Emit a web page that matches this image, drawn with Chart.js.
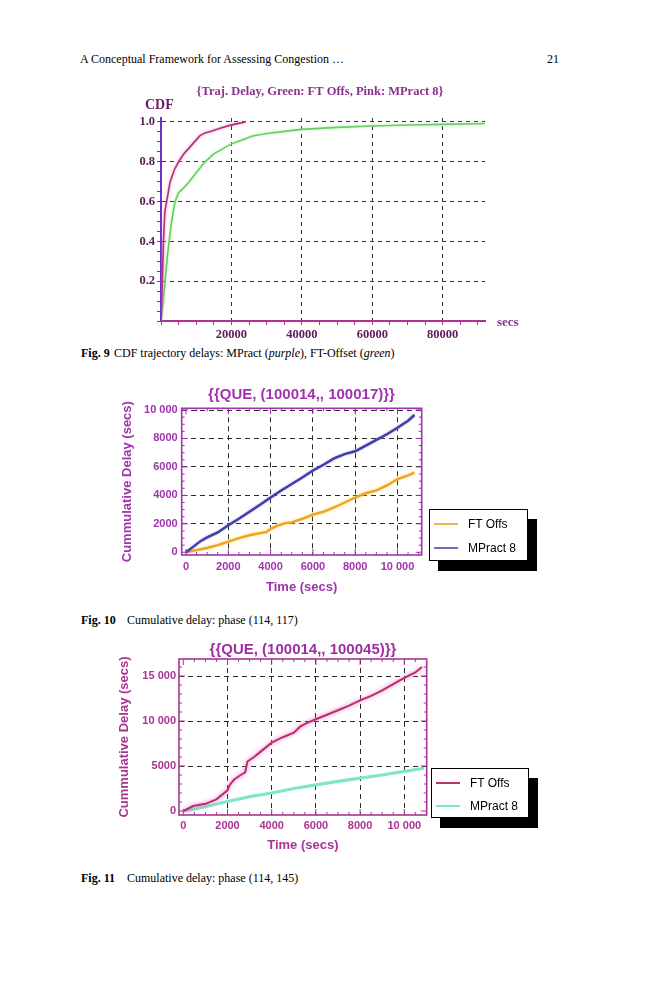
<!DOCTYPE html>
<html><head><meta charset="utf-8">
<script src="https://cdn.jsdelivr.net/npm/chart.js@4.4.1/dist/chart.umd.min.js"></script>
<style>
body{margin:0;background:#fff;width:659px;height:1000px;position:relative;overflow:hidden;font-family:'Liberation Serif','Times New Roman',serif;color:#000;}
.t{position:absolute;white-space:nowrap;line-height:1;}
canvas{position:absolute;}
.lg{position:absolute;box-sizing:border-box;background:#fff;border:1px solid #000;box-shadow:9px 10px 0 #000;font-family:'Liberation Sans',Arial,sans-serif;font-size:12px;}
.lg .sw{position:absolute;left:4px;width:24px;height:0;border-top:2px solid;}
.lg .lb{position:absolute;left:38px;line-height:14px;}
.cap{position:absolute;left:81px;font-size:12px;white-space:nowrap;line-height:12px;}
.cap b{display:inline-block;}
</style></head>
<body>
<div class="t" style="left:80px;top:53px;font-size:12px;">A Conceptual Framework for Assessing Congestion …</div>
<div class="t" style="left:547px;top:53px;font-size:12px;">21</div>

<canvas id="c1" width="440" height="260" style="left:100px;top:80px;"></canvas>
<div class="t" style="left:145px;top:98px;font-size:14px;font-weight:bold;color:#6a1a66;">CDF</div>
<div class="t" style="left:497px;top:315px;font-size:13px;font-weight:bold;color:#8a3a8a;">secs</div>
<div class="cap" style="top:347px;"><b style="width:33px;">Fig. 9</b>CDF trajectory delays: MPract (<i>purple</i>), FT-Offset (<i>green</i>)</div>

<canvas id="c2" width="383" height="220" style="left:110px;top:380px;"></canvas>
<div class="lg" style="left:429px;top:509px;width:99px;height:52px;">
  <div class="sw" style="top:13px;border-color:#f2b44a;"></div><div class="lb" style="top:7px;">FT Offs</div>
  <div class="sw" style="top:37px;border-color:#6f6fb8;"></div><div class="lb" style="top:31px;">MPract 8</div>
</div>
<div class="cap" style="top:614px;"><b style="width:46px;">Fig. 10</b>Cumulative delay: phase (114, 117)</div>

<canvas id="c3" width="386" height="230" style="left:110px;top:630px;"></canvas>
<div class="lg" style="left:431px;top:768px;width:98px;height:50px;">
  <div class="sw" style="top:13px;border-color:#c0306c;"></div><div class="lb" style="top:7px;">FT Offs</div>
  <div class="sw" style="top:36px;border-color:#7fe6c8;"></div><div class="lb" style="top:30px;">MPract 8</div>
</div>
<div class="cap" style="top:872px;"><b style="width:46px;">Fig. 11</b>Cumulative delay: phase (114, 145)</div>

<script>
// ---------- Fig. 9 data (CDF of trajectory delays) ----------
const cdfTitle = '{Traj. Delay, Green: FT Offs, Pink: MPract 8}';
const cdfMpractX = [0, 300, 700, 1100, 1600, 2600, 3800, 5000, 6500, 8000, 9500, 11000, 12500, 14500, 17000, 19500, 22000, 24000];
const cdfMpractY = [0, 0.15, 0.40, 0.55, 0.60, 0.70, 0.76, 0.80, 0.84, 0.87, 0.90, 0.93, 0.945, 0.955, 0.97, 0.983, 0.993, 1.0];
const cdfFtX = [0, 500, 1000, 1900, 3000, 4000, 5000, 6500, 8000, 10000, 12500, 15000, 17500, 20000, 23000, 26000, 30000, 35000, 40000, 45000, 50000, 60000, 70000, 80000, 92000];
const cdfFtY = [0, 0.08, 0.17, 0.34, 0.50, 0.60, 0.645, 0.67, 0.70, 0.745, 0.80, 0.84, 0.865, 0.89, 0.91, 0.93, 0.942, 0.953, 0.963, 0.968, 0.973, 0.98, 0.985, 0.988, 0.992];
const cdfXTicks = [0, 5000, 10000, 15000, 20000, 25000, 30000, 35000, 40000, 45000, 50000, 55000, 60000, 65000, 70000, 75000, 80000, 85000, 90000];
const cdfXLabeled = [20000, 40000, 60000, 80000];
const cdfYTicks = [0, 0.05, 0.1, 0.15, 0.2, 0.25, 0.3, 0.35, 0.4, 0.45, 0.5, 0.55, 0.6, 0.65, 0.7, 0.75, 0.8, 0.85, 0.9, 0.95, 1.0];
const cdfYLabeled = [0.2, 0.4, 0.6, 0.8, 1.0];

// ---------- Fig. 10 data ----------
const q1Title = '{{QUE, (100014,, 100017)}}';
const q1FtX = [0, 500, 1000, 1500, 2000, 2500, 3000, 3500, 3800, 4000, 4300, 4700, 5000, 5500, 6000, 6500, 7000, 7500, 8000, 8500, 9000, 9500, 10000, 10500, 10800];
const q1FtY = [0, 150, 300, 500, 750, 1000, 1200, 1350, 1420, 1650, 1850, 2050, 2100, 2350, 2650, 2850, 3150, 3500, 3850, 4150, 4350, 4700, 5150, 5400, 5600];
const q1MpX = [0, 350, 700, 1000, 1500, 2000, 2500, 3000, 3500, 4000, 4500, 5000, 5500, 6000, 6500, 7000, 7500, 8000, 8500, 9000, 9500, 10000, 10500, 10800];
const q1MpY = [0, 400, 800, 1050, 1400, 1900, 2350, 2850, 3350, 3850, 4350, 4800, 5250, 5750, 6150, 6600, 6900, 7100, 7500, 7900, 8300, 8750, 9250, 9650];
const q1XTicks = [0, 2000, 4000, 6000, 8000, 10000];
const q1YTicks = [0, 2000, 4000, 6000, 8000, 10000];

// ---------- Fig. 11 data ----------
const q2Title = '{{QUE, (100014,, 100045)}}';
const q2FtX = [0, 450, 1000, 1500, 2000, 2100, 2300, 2600, 2800, 2900, 3200, 3500, 4000, 4500, 5000, 5300, 5600, 6000, 6500, 7000, 7500, 8000, 8500, 9000, 9500, 10000, 10500, 10800];
const q2FtY = [0, 550, 800, 1300, 2300, 2900, 3500, 4000, 4300, 5500, 6000, 6600, 7600, 8200, 8700, 9400, 9800, 10200, 10700, 11200, 11700, 12300, 12800, 13400, 14100, 14800, 15400, 16000];
const q2MpX = [0, 500, 1000, 2000, 3000, 4000, 5000, 6000, 7000, 8000, 9000, 10000, 10900];
const q2MpY = [0, 200, 500, 1050, 1600, 2000, 2500, 2900, 3300, 3650, 4000, 4400, 4750];
const q2XTicks = [0, 2000, 4000, 6000, 8000, 10000];
const q2YTicks = [0, 5000, 10000, 15000];

const pts = (xs, ys) => xs.map((x, i) => ({x: x, y: ys[i]}));
const fmt = v => v >= 10000 ? String(v).replace(/\B(?=(\d{3})+(?!\d))/g, ' ') : String(v);
const SANS = "'Liberation Sans', Arial, sans-serif";
const SERIF = "'Liberation Serif', 'Times New Roman', serif";
const steps = (a, b, s) => { const r = []; for (let v = a; v <= b + 1e-9; v += s) r.push(Math.round(v * 1000) / 1000); return r; };
// invisible right-hand spacer axis so that the title stays centred on the whole figure
const spacer = w => ({ position: 'right', display: true, afterFit: s => { s.width = w; }, ticks: { display: false }, grid: { display: false, drawTicks: false }, border: { display: false } });

const glowPlugin = {
  id: 'glow',
  beforeDatasetDraw(chart, args) {
    const ds = chart.data.datasets[args.index];
    if (ds.glowColor) { chart.ctx.save(); chart.ctx.shadowColor = ds.glowColor; chart.ctx.shadowBlur = ds.glowBlur || 4; }
  },
  afterDatasetDraw(chart, args) {
    const ds = chart.data.datasets[args.index];
    if (ds.glowColor) chart.ctx.restore();
  }
};

const framePlugin = {
  id: 'frame',
  afterDatasetsDraw(chart, args, o) {
    if (!o || !o.color) return;
    const ctx = chart.ctx, a = chart.chartArea, xs = chart.scales.x, ys = chart.scales.y;
    ctx.save();
    ctx.strokeStyle = o.color;
    ctx.lineWidth = 1;
    const seg = (x1, y1, x2, y2) => { ctx.beginPath(); ctx.moveTo(x1, y1); ctx.lineTo(x2, y2); ctx.stroke(); };
    o.xMinor.forEach(v => {
      const p = xs.getPixelForValue(v);
      if (p < a.left || p > a.right) return;
      const L = o.xMajor.includes(v) ? 6 : 3;
      seg(p, a.bottom, p, a.bottom - L); seg(p, a.top, p, a.top + L);
    });
    o.yMinor.forEach(v => {
      const p = ys.getPixelForValue(v);
      if (p < a.top || p > a.bottom) return;
      const L = o.yMajor.includes(v) ? 6 : 3;
      seg(a.left, p, a.left + L, p); seg(a.right, p, a.right - L, p);
    });
    ctx.lineWidth = 1.6;
    ctx.strokeRect(a.left, a.top, a.right - a.left, a.bottom - a.top);
    ctx.restore();
  }
};
Chart.register(glowPlugin);

// ---------- Fig. 9 ----------
new Chart(document.getElementById('c1'), {
  type: 'line',
  data: { datasets: [
    { label: 'MPract 8', data: pts(cdfMpractX, cdfMpractY), borderColor: '#b3336f', borderWidth: 1.6, pointRadius: 0, tension: 0, glowColor: 'rgba(240,130,225,0.95)', glowBlur: 3 },
    { label: 'FT Offs', data: pts(cdfFtX, cdfFtY), borderColor: '#6cc96c', borderWidth: 1.6, pointRadius: 0, tension: 0, glowColor: 'rgba(170,245,150,0.9)', glowBlur: 3 }
  ]},
  options: {
    responsive: false, animation: false, events: [],
    layout: { padding: 0 },
    plugins: {
      legend: { display: false }, tooltip: { enabled: false },
      title: { display: true, text: cdfTitle, color: '#8b338b', font: { family: SERIF, size: 12.5, weight: 'bold', lineHeight: 1.2 }, padding: { top: 4.5, bottom: 18.5 } }
    },
    scales: {
      x: {
        type: 'linear', min: 0, max: 92000,
        afterBuildTicks: s => { s.ticks = cdfXTicks.map(v => ({value: v})); },
        afterFit: s => { s.height = 19; },
        ticks: { autoSkip: false, maxRotation: 0, padding: 2, color: '#5e2058', font: { family: SERIF, size: 12.5, weight: 'bold' },
          callback: v => cdfXLabeled.includes(v) ? String(v) : '' },
        grid: { color: c => (c.tick && cdfXLabeled.includes(c.tick.value)) ? '#333' : 'rgba(0,0,0,0)', lineWidth: 1, tickColor: '#b0308f', tickLength: 4, tickBorderDash: [] },
        border: { display: true, color: '#b0308f', width: 2, dash: [4, 4] }
      },
      y: {
        type: 'linear', min: 0, max: 1.02,
        afterBuildTicks: s => { s.ticks = cdfYTicks.map(v => ({value: v})); },
        afterFit: s => { s.width = 61; },
        ticks: { autoSkip: false, padding: 2, color: '#5e2058', font: { family: SERIF, size: 12.5, weight: 'bold' },
          callback: v => cdfYLabeled.some(w => Math.abs(w - v) < 1e-6) ? v.toFixed(1) : '' },
        grid: { color: c => (c.tick && cdfYLabeled.some(w => Math.abs(w - c.tick.value) < 1e-6)) ? '#333' : 'rgba(0,0,0,0)', lineWidth: 1, tickColor: '#6a32c8', tickLength: 4, tickBorderDash: [] },
        border: { display: true, color: '#6a32c8', width: 2, dash: [4, 4] }
      },
      yr: spacer(55)
    }
  }
});

// ---------- helper for the framed cumulative-delay charts ----------
function cumChart(id, cfg) {
  const col = cfg.color;
  new Chart(document.getElementById(id), {
    type: 'line',
    data: { datasets: cfg.datasets },
    plugins: [framePlugin],
    options: {
      responsive: false, animation: false, events: [],
      layout: { padding: 0 },
      plugins: {
        legend: { display: false }, tooltip: { enabled: false },
        title: { display: true, text: cfg.title, color: cfg.titleColor, font: { family: SANS, size: 15, weight: 'bold', lineHeight: cfg.titleLH }, padding: cfg.titlePad },
        frame: { color: col, xMajor: cfg.xTicks, xMinor: cfg.xMinor, yMajor: cfg.yTicks, yMinor: cfg.yMinor }
      },
      scales: {
        x: {
          type: 'linear', min: cfg.xMin, max: cfg.xMax,
          afterBuildTicks: s => { s.ticks = cfg.xTicks.map(v => ({value: v})); },
          afterFit: s => { s.height = cfg.xH; },
          ticks: { autoSkip: false, maxRotation: 0, padding: cfg.xPad, color: col, font: { family: SANS, size: 11, weight: 'bold' }, callback: v => fmt(v) },
          grid: { drawTicks: false, color: c => (c.tick && c.tick.value !== 0) ? '#2a2a2a' : 'rgba(0,0,0,0)', lineWidth: 1 },
          border: { display: false, dash: [5, 4] },
          title: { display: true, text: 'Time (secs)', color: col, font: { family: SANS, size: 13, weight: 'bold', lineHeight: 1.2 }, padding: { top: 0, bottom: cfg.xTitlePad } }
        },
        y: {
          type: 'linear', min: cfg.yMin, max: cfg.yMax,
          afterBuildTicks: s => { s.ticks = cfg.yTicks.map(v => ({value: v})); },
          afterFit: s => { s.width = cfg.yW; },
          ticks: { autoSkip: false, padding: cfg.yPad, color: col, font: { family: SANS, size: 11, weight: 'bold' }, callback: v => fmt(v) },
          grid: { drawTicks: false, color: c => (c.tick && c.tick.value !== 0) ? '#2a2a2a' : 'rgba(0,0,0,0)', lineWidth: 1 },
          border: { display: false, dash: [5, 4] },
          title: { display: true, text: 'Cummulative Delay (secs)', color: col, font: { family: SANS, size: 13, weight: 'bold', lineHeight: 1.2 }, padding: { top: cfg.yTitlePad, bottom: 0 } }
        },
        yr: spacer(cfg.padRight)
      }
    }
  });
}

// ---------- Fig. 10 ----------
cumChart('c2', {
  title: q1Title, color: '#a232b0', titleColor: '#a232b0', titleLH: 1.2, titlePad: { top: 6, bottom: 4.3 },
  padRight: 71.3, xH: 45, yW: 71.7, xPad: 5, yPad: 4, xTitlePad: 5, yTitlePad: 10,
  xMin: -203, xMax: 11144, yMin: -190, yMax: 10120,
  xTicks: q1XTicks, yTicks: q1YTicks, xMinor: steps(0, 11000, 500), yMinor: steps(0, 10000, 500),
  datasets: [
    { label: 'MPract 8', data: pts(q1MpX, q1MpY), borderColor: '#3f3fa6', borderWidth: 2.4, pointRadius: 0, tension: 0, glowColor: 'rgba(120,120,220,0.7)', glowBlur: 2 },
    { label: 'FT Offs', data: pts(q1FtX, q1FtY), borderColor: '#f0a227', borderWidth: 2.4, pointRadius: 0, tension: 0, glowColor: 'rgba(250,220,90,0.9)', glowBlur: 3 }
  ]
});

// ---------- Fig. 11 ----------
cumChart('c3', {
  title: q2Title, color: '#aa3492', titleColor: '#9d2fa2', titleLH: 1.0, titlePad: { top: 12, bottom: 2 },
  padRight: 69.3, xH: 45, yW: 69, xPad: 4, yPad: 3, xTitlePad: 6.5, yTitlePad: 7,
  xMin: -195, xMax: 11014, yMin: -444, yMax: 16889,
  xTicks: q2XTicks, yTicks: q2YTicks, xMinor: steps(0, 11000, 500), yMinor: steps(0, 16000, 1000),
  datasets: [
    { label: 'FT Offs', data: pts(q2FtX, q2FtY), borderColor: '#bb2f6a', borderWidth: 2, pointRadius: 0, tension: 0, glowColor: 'rgba(235,110,210,1)', glowBlur: 4 },
    { label: 'MPract 8', data: pts(q2MpX, q2MpY), borderColor: '#7fe6c8', borderWidth: 3.2, pointRadius: 0, tension: 0 }
  ]
});
</script>
</body></html>
